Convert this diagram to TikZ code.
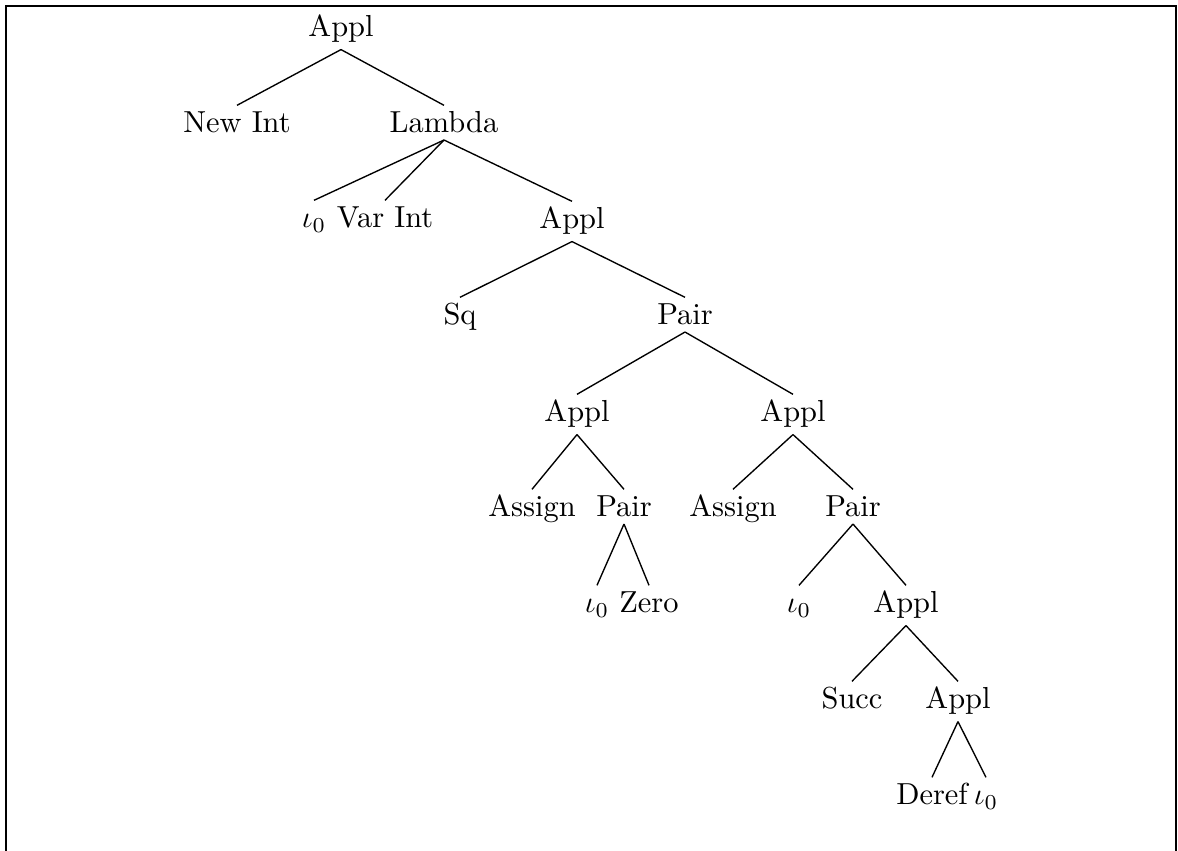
\documentclass[tikz,border=0pt]{standalone}
\begin{document}
\begin{tikzpicture}[x=0.32886pt,y=-0.32886pt,
  tn/.style={anchor=base,inner sep=2pt,text height=6.9pt},
  edge/.style={line width=0.45pt},
  frame/.style={line width=0.6pt}]
\useasboundingbox (0,0) rectangle (1178,851);
\begin{scope}
\clip (0,0) rectangle (1178,851);
\coordinate (fbl) at (6,880);
\coordinate (ftl) at (6,6);
\coordinate (ftr) at (1176,6);
\coordinate (fbr) at (1176,880);
\draw[frame] (fbl) -- (ftl) -- (ftr) -- (fbr);
\end{scope}
% nodes
\node[tn] (r)      at (341,37)  {Appl};
\node[tn] (newint) at (237,133) {New Int};
\node[tn] (lam)    at (444,133) {Lambda};
\node[tn] (i1)     at (314,228) {$\iota_0$};
\node[tn] (varint) at (385,228) {Var Int};
\node[tn] (a2)     at (572,229) {Appl};
\node[tn] (sq)     at (460,325) {Sq};
\node[tn] (p1)     at (685,325) {Pair};
\node[tn] (a3)     at (577,422) {Appl};
\node[tn] (a4)     at (793,422) {Appl};
\node[tn] (as1)    at (532,517) {Assign};
\node[tn] (p2)     at (624,517) {Pair};
\node[tn] (as2)    at (733,517) {Assign};
\node[tn] (p3)     at (853,517) {Pair};
\node[tn] (i2)     at (597,613) {$\iota_0$};
\node[tn] (zero)   at (649,613) {Zero};
\node[tn] (i3)     at (799,613) {$\iota_0$};
\node[tn] (a5)     at (906,613) {Appl};
\node[tn] (succ)   at (852,709) {Succ};
\node[tn] (a6)     at (958,709) {Appl};
\node[tn] (deref)  at (932,805) {Deref};
\node[tn] (i4)     at (986,805) {$\iota_0$};
% edges
\draw[edge] (r.south) -- (newint.north);
\draw[edge] (r.south) -- (lam.north);
\draw[edge] (lam.south) -- (i1.north);
\draw[edge] (lam.south) -- (varint.north);
\draw[edge] (lam.south) -- (a2.north);
\draw[edge] (a2.south) -- (sq.north);
\draw[edge] (a2.south) -- (p1.north);
\draw[edge] (p1.south) -- (a3.north);
\draw[edge] (p1.south) -- (a4.north);
\draw[edge] (a3.south) -- (as1.north);
\draw[edge] (a3.south) -- (p2.north);
\draw[edge] (a4.south) -- (as2.north);
\draw[edge] (a4.south) -- (p3.north);
\draw[edge] (p2.south) -- (i2.north);
\draw[edge] (p2.south) -- (zero.north);
\draw[edge] (p3.south) -- (i3.north);
\draw[edge] (p3.south) -- (a5.north);
\draw[edge] (a5.south) -- (succ.north);
\draw[edge] (a5.south) -- (a6.north);
\draw[edge] (a6.south) -- (deref.north);
\draw[edge] (a6.south) -- (i4.north);
\end{tikzpicture}
\end{document}
